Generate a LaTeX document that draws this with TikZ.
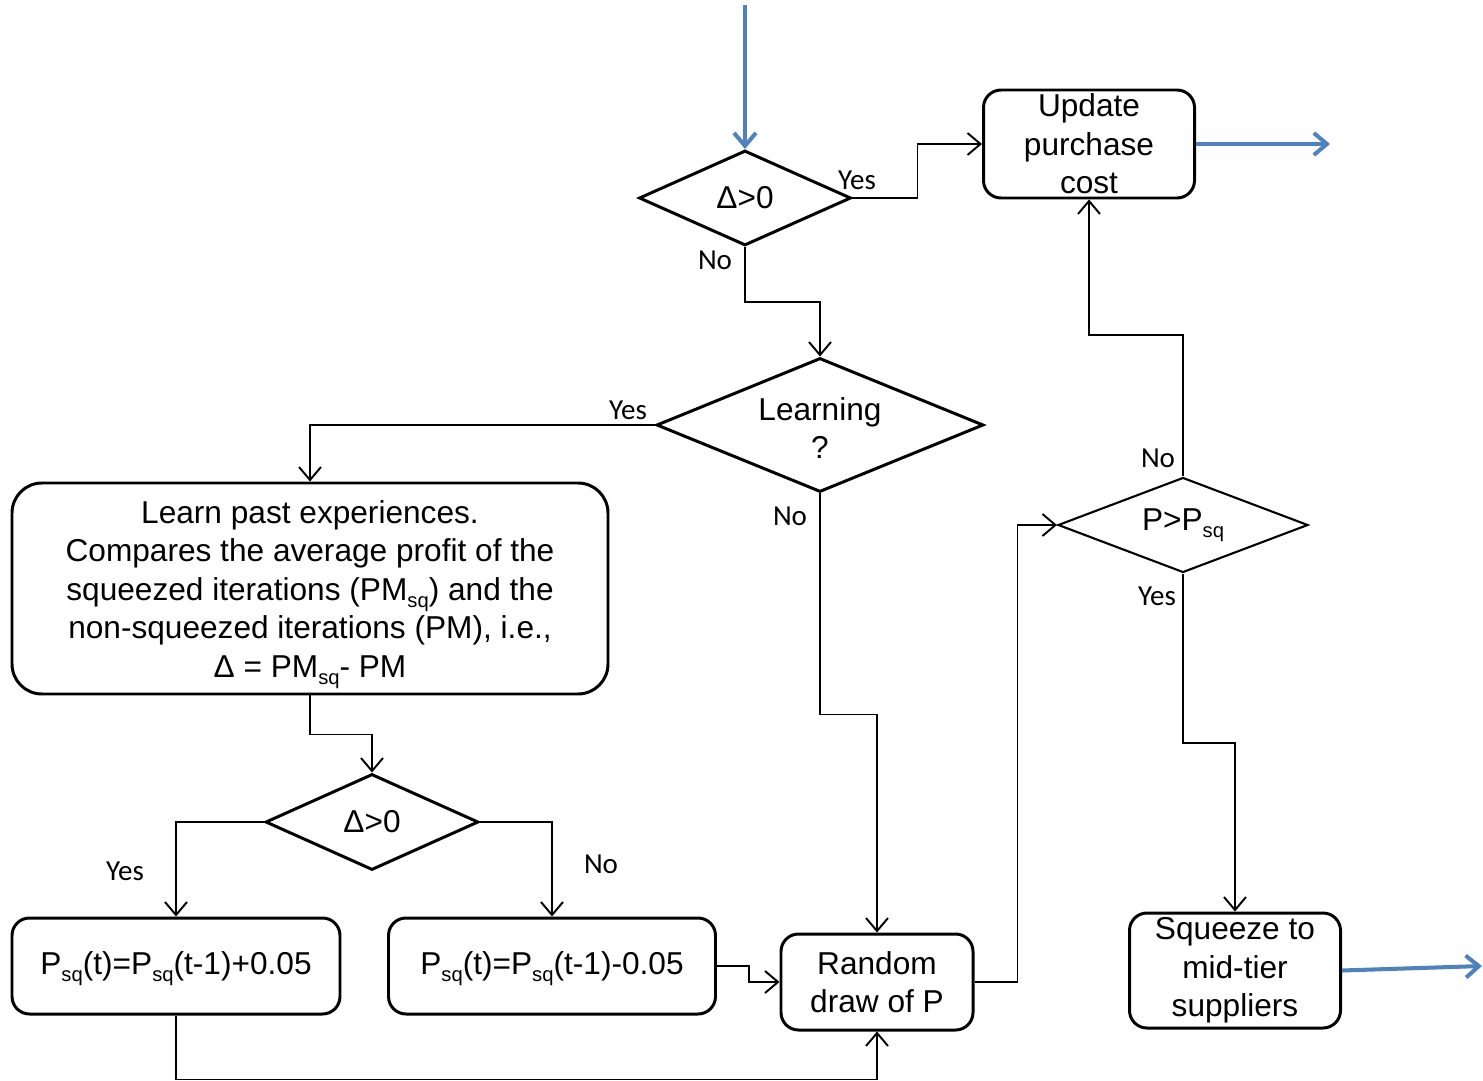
\documentclass[tikz,border=0pt]{standalone}
\usepackage{fontspec}
\setmainfont{Liberation Sans}
\newfontfamily\lblfont{Carlito}
\usetikzlibrary{shapes.geometric,arrows.meta}
\definecolor{flowblue}{RGB}{79,129,189}
\newcommand{\boxfont}{\fontsize{18}{21.9}\selectfont}
\newcommand{\sq}{\raisebox{-4pt}{\fontsize{11.5}{11.5}\selectfont sq}}

\begin{document}
\begin{tikzpicture}[>={Straight Barb[length=0.26cm,width=0.44cm]}]
\tikzstyle{box}=[rectangle, draw, line width=1.7pt, rounded corners=0.35cm, align=center, inner sep=0pt, font=\boxfont]
\tikzstyle{decision}=[diamond, draw, line width=1.7pt, inner sep=0pt]
\tikzstyle{dtext}=[font=\boxfont, align=center, inner sep=0pt]
\tikzstyle{link}=[->, line width=1.1pt]
\tikzstyle{flow}=[->, flowblue, line width=2.3pt]
\tikzstyle{lbl}=[font=\lblfont\fontsize{16.5}{19}\selectfont, inner sep=0pt]

\useasboundingbox (0,0) rectangle (29.66,-21.62);

\coordinate (start) at (14.9, -0.1);
\coordinate (upd_out) at (26.6, -2.88);
\coordinate (sqz_out) at (29.64, -19.32);

\node[decision, minimum width=4.24cm, minimum height=1.9cm,
  label={[dtext]center:Δ>0}] (d_1) at (14.9, -3.96) {};
\node[box, minimum width=4.22cm, minimum height=2.16cm] (upd) at (21.78, -2.88) {Update\\purchase\\cost};
\node[decision, minimum width=6.54cm, minimum height=2.68cm,
  label={[dtext, yshift=-0.06cm]center:Learning\\?}] (lrn) at (16.4, -8.5) {};
\node[box, minimum width=11.92cm, minimum height=4.22cm, rounded corners=0.6cm,
  label={[dtext, yshift=-0.12cm]center:Learn past experiences.\\Compares the average profit of the\\squeezed iterations (PM\sq) and the\\non-squeezed iterations (PM), i.e.,\\Δ = PM\sq- PM}] (learn_box) at (6.2, -11.77) {};
\node[decision, minimum width=4.26cm, minimum height=1.92cm,
  label={[dtext]center:Δ>0}] (d_2) at (7.44, -16.44) {};
\node[box, minimum width=6.56cm, minimum height=1.92cm, text depth=0.1cm] (p_up) at (3.52, -19.32) {P\sq(t)=P\sq(t-1)+0.05};
\node[box, minimum width=6.54cm, minimum height=1.92cm, text depth=0.1cm] (p_down) at (11.04, -19.32) {P\sq(t)=P\sq(t-1)-0.05};
\node[box, minimum width=3.84cm, minimum height=1.92cm] (rnd) at (17.54, -19.64) {Random\\draw of P};
\node[decision, minimum width=5cm, minimum height=1.9cm, line width=1.2pt,
  label={[dtext]center:P>P\sq}] (p_cmp) at (23.66, -10.5) {};
\node[box, minimum width=4.22cm, minimum height=2.3cm] (sqz) at (24.7, -19.41) {Squeeze to\\mid-tier\\suppliers};

\node[lbl] at (17.14, -3.6) {Yes};
\node[lbl] at (14.3, -5.2) {No};
\node[lbl] at (12.56, -8.2) {Yes};
\node[lbl] at (15.8, -10.32) {No};
\node[lbl] at (2.5, -17.42) {Yes};
\node[lbl] at (12.02, -17.28) {No};
\node[lbl] at (23.16, -9.16) {No};
\node[lbl] at (23.14, -11.92) {Yes};

\draw[flow] (start) -- (d_1.north);
\draw[flow] (upd.east) -- (upd_out);
\draw[flow] (sqz.east) -- (sqz_out);

\draw[link] (d_1.east) -- ++(1.3,0) |- (upd.west);
\draw[link] (d_1.south) -- ++(0,-1.1) -| (lrn.north);
\draw[link] (lrn.west) -| (learn_box.north);
\draw[link] (lrn.south) -- ++(0,-4.42) -| (rnd.north);
\draw[link] (learn_box.south) -- ++(0,-0.78) -| (d_2.north);
\draw[link] (d_2.west) -| (p_up.north);
\draw[link] (d_2.east) -| (p_down.north);
\draw[link] (p_down.east) -- ++(0.64,0) |- (rnd.west);
\draw[link] (p_up.south) -- ++(0,-1.28) -| (rnd.south);
\draw[link] (rnd.east) -- ++(0.86,0) |- (p_cmp.west);
\draw[link] (p_cmp.north) -- ++(0,2.82) -| (upd.south);
\draw[link] (p_cmp.south) -- ++(0,-3.38) -| (sqz.north);

\end{tikzpicture}
\end{document}
